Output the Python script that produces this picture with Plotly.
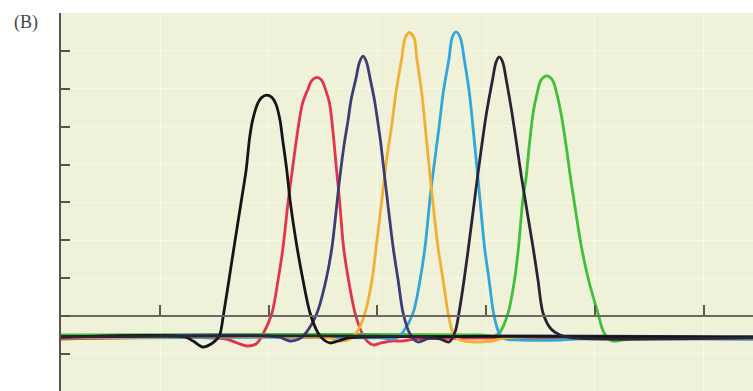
import plotly.graph_objects as go

# ---- data (x in axis units, ticks at 1..6; y in axis units, ticks every 1) ----
black_x = [0.089, 1.230, 1.304, 1.396, 1.469, 1.524, 1.552, 1.586, 1.634, 1.681, 1.749, 1.792, 1.825, 1.852,
           1.899, 1.934, 1.982, 2.026, 2.064, 2.104, 2.125, 2.166, 2.196, 2.260, 2.315, 2.380, 2.454, 2.509,
           2.564, 2.638, 2.730, 2.886, 6.455]
black_y = [-0.554, -0.554, -0.660, -0.818, -0.739, -0.607, -0.475, 0.079, 0.950, 1.821, 3.061, 3.852, 4.723, 5.171,
           5.612, 5.765, 5.831, 5.778, 5.612, 5.171, 4.723, 3.852, 3.061, 1.821, 0.950, 0.079, -0.449, -0.633,
           -0.712, -0.660, -0.580, -0.554, -0.554]

red_x = [0.089, 1.607, 1.708, 1.800, 1.883, 1.948, 2.030, 2.086, 2.132, 2.180, 2.217, 2.258, 2.311, 2.359,
         2.394, 2.442, 2.486, 2.524, 2.559, 2.596, 2.624, 2.651, 2.688, 2.734, 2.794, 2.858, 2.904, 2.960,
         3.033, 3.134, 3.226, 3.346, 6.455]
red_y = [-0.607, -0.607, -0.712, -0.792, -0.739, -0.475, 0.079, 0.950, 1.821, 3.061, 3.852, 4.723, 5.620, 5.976,
         6.210, 6.298, 6.227, 5.963, 5.620, 4.723, 3.852, 3.061, 1.821, 0.950, 0.079, -0.449, -0.660, -0.765,
         -0.712, -0.660, -0.660, -0.607, -0.607]

navy_x = [0.089, 2.086, 2.196, 2.279, 2.334, 2.444, 2.527, 2.582, 2.651, 2.693, 2.730, 2.757, 2.803, 2.835,
          2.868, 2.900, 2.932, 2.973, 3.001, 3.033, 3.070, 3.144, 3.190, 3.236, 3.300, 3.373, 3.456, 3.576, 6.455]
navy_y = [-0.554, -0.554, -0.660, -0.607, -0.475, 0.079, 0.950, 1.821, 3.588, 4.512, 5.171, 5.699, 6.280, 6.702,
          6.860, 6.702, 6.280, 5.699, 5.171, 4.512, 3.588, 1.821, 0.950, 0.079, -0.475, -0.686, -0.607, -0.554,
          -0.554]

orange_x = [0.089, 2.546, 2.656, 2.748, 2.812, 2.886, 2.950, 2.996, 3.049, 3.086, 3.132, 3.171, 3.224, 3.254,
            3.293, 3.337, 3.362, 3.407, 3.438, 3.468, 3.500, 3.557, 3.604, 3.650, 3.696, 3.760, 3.898, 4.054,
            4.174, 6.455]
orange_y = [-0.580, -0.580, -0.660, -0.607, -0.422, 0.079, 0.950, 2.005, 3.272, 4.169, 5.040, 5.910, 6.807, 7.335,
            7.485, 7.335, 6.807, 5.910, 5.040, 4.169, 3.272, 1.821, 0.950, 0.079, -0.449, -0.633, -0.686, -0.660,
            -0.580, -0.580]

blue_x = [0.089, 3.024, 3.134, 3.190, 3.236, 3.328, 3.392, 3.438, 3.490, 3.530, 3.569, 3.606, 3.659, 3.686,
          3.723, 3.764, 3.797, 3.845, 3.877, 3.907, 3.937, 3.985, 4.027, 4.068, 4.119, 4.174, 4.312, 4.680,
          4.818, 6.455]
blue_y = [-0.580, -0.580, -0.607, -0.554, -0.422, 0.079, 0.950, 1.821, 3.272, 4.169, 5.040, 5.910, 6.807, 7.335,
          7.501, 7.335, 6.807, 5.910, 5.040, 4.169, 3.272, 1.821, 0.950, 0.079, -0.449, -0.607, -0.633, -0.633,
          -0.607, -0.607]

dark_x = [0.089, 3.438, 3.576, 3.659, 3.714, 3.750, 3.797, 3.838, 3.919, 3.960, 4.005, 4.061, 4.091, 4.121,
          4.153, 4.183, 4.236, 4.282, 4.327, 4.431, 4.477, 4.523, 4.597, 4.680, 4.790, 6.455]
dark_y = [-0.554, -0.554, -0.607, -0.686, -0.422, 0.079, 0.950, 1.821, 3.633, 4.512, 5.390, 6.272, 6.702, 6.842,
          6.702, 6.272, 5.390, 4.512, 3.633, 1.821, 0.950, 0.079, -0.343, -0.501, -0.580, -0.580]

green_x = [0.089, 3.944, 4.073, 4.128, 4.202, 4.261, 4.298, 4.339, 4.367, 4.397, 4.434, 4.465, 4.505, 4.557,
           4.611, 4.653, 4.686, 4.735, 4.777, 4.805, 4.877, 4.947, 5.020, 5.085, 5.158, 5.250, 5.370, 6.455]
green_y = [-0.501, -0.501, -0.528, -0.422, 0.079, 0.950, 1.821, 3.113, 3.633, 4.512, 5.390, 5.831, 6.227, 6.340,
           6.227, 5.831, 5.390, 4.512, 3.633, 3.113, 1.821, 0.897, 0.158, -0.449, -0.660, -0.633, -0.580, -0.580]

series = [
    ("red", red_x, red_y, "#e2344a"),
    ("green", green_x, green_y, "#3fbf3a"),
    ("blue", blue_x, blue_y, "#2fa6dc"),
    ("orange", orange_x, orange_y, "#f0b132"),
    ("navy", navy_x, navy_y, "#3c3c76"),
    ("black", black_x, black_y, "#151515"),
    ("dark", dark_x, dark_y, "#2a2336"),
]

fig = go.Figure()
for name, xs, ys, col in series:
    fig.add_trace(go.Scatter(x=xs, y=ys, mode="lines", name=name,
                             line=dict(color=col, width=2.8, shape="spline", smoothing=0.85),
                             hoverinfo="skip"))

fig.update_layout(
    width=753, height=391,
    margin=dict(l=61, r=0, t=13, b=0),
    paper_bgcolor="#ffffff",
    plot_bgcolor="#eff1d9",
    showlegend=False,
    xaxis=dict(range=[0.089, 6.455], tick0=0, dtick=1, showticklabels=False,
               showline=True, linecolor="#6a6a62", linewidth=1.6,
               ticks="inside", ticklen=10, tickwidth=1.6, tickcolor="#5a5a52",
               anchor="free", position=0.1984,
               showgrid=True, gridcolor="rgba(255,255,255,0.5)", gridwidth=1,
               zeroline=False),
    yaxis=dict(range=[-1.98, 8.0], tick0=0, dtick=1, showticklabels=False,
               showline=True, linecolor="#55554f", linewidth=2,
               ticks="inside", ticklen=9, tickwidth=2, tickcolor="#55554f",
               showgrid=True, gridcolor="rgba(255,255,255,0.45)", gridwidth=1,
               zeroline=False),
    annotations=[dict(text="(B)", xref="paper", yref="paper", x=-0.071, y=0.976,
                      xanchor="left", yanchor="middle", showarrow=False,
                      font=dict(family="Liberation Serif, DejaVu Serif, serif", size=18, color="#444444"))],
)

fig.write_html("out.html",
               config={"displayModeBar": False},
               post_script="document.body.style.margin='0';document.body.style.overflow='hidden';")
